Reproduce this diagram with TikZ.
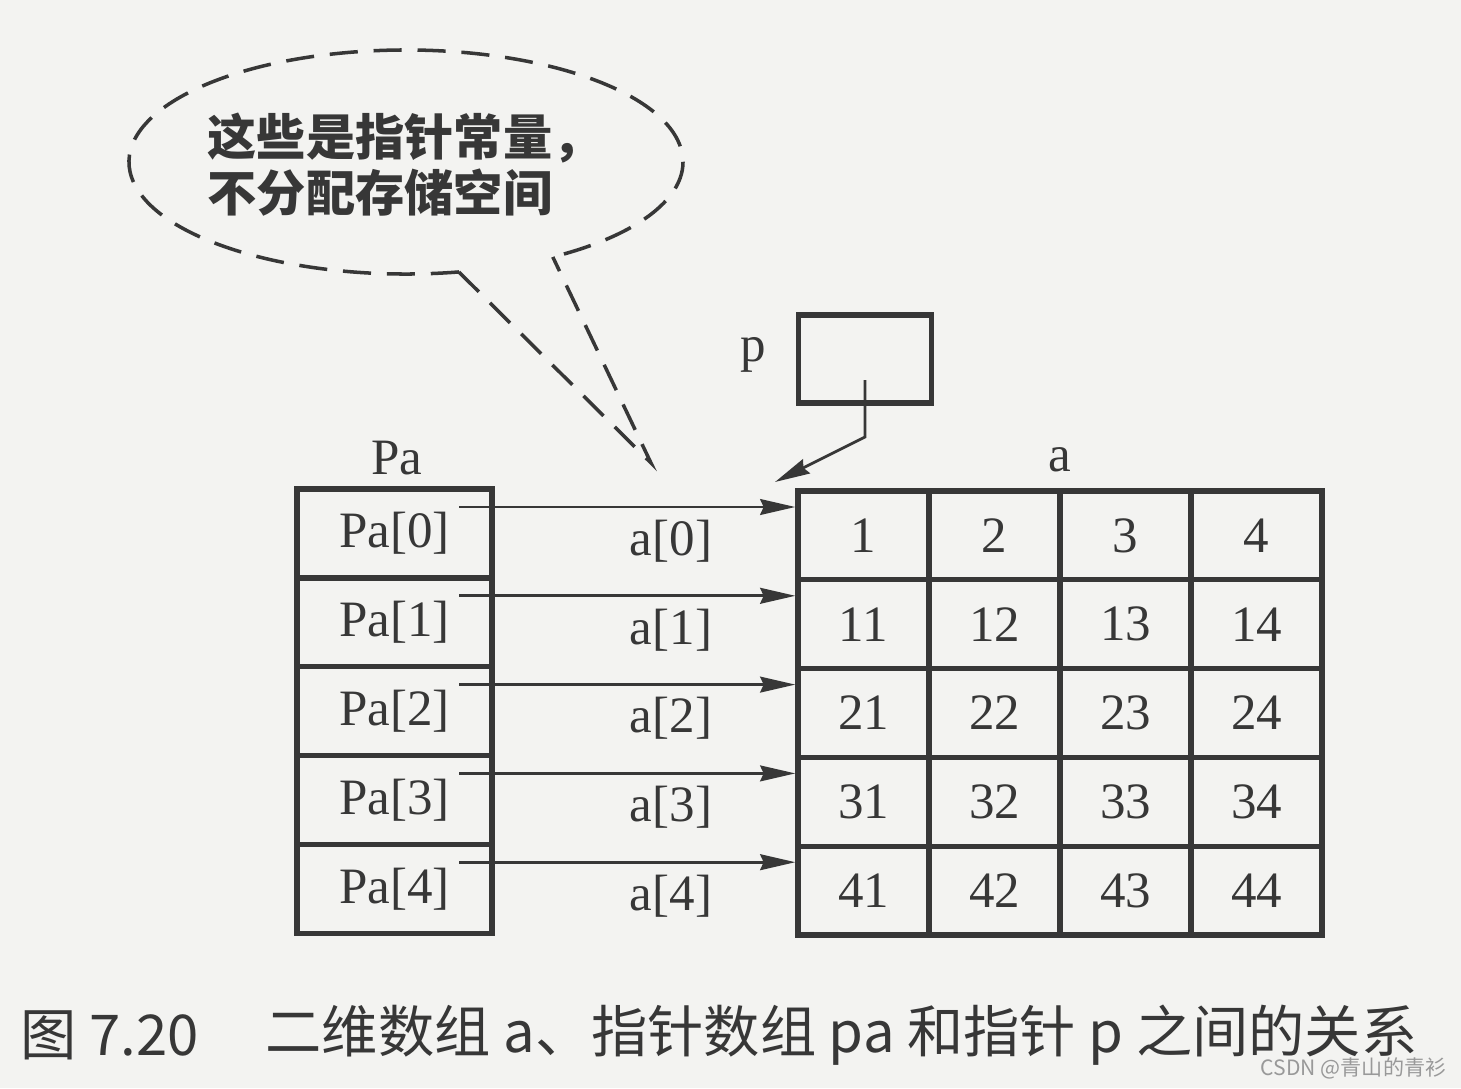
\documentclass[tikz,border=0pt]{standalone}
\usepackage{fontspec}
\setmainfont{Liberation Serif}
\newfontfamily\cjk{Noto Sans CJK SC}
\usetikzlibrary{arrows.meta}
\definecolor{ink}{RGB}{55,55,55}
\definecolor{paper}{RGB}{243,243,241}

\begin{document}
\begin{tikzpicture}[x=0.01cm,y=-0.01cm,
        lbl/.style={font=\fontsize{14.5}{17}\selectfont,text=ink,inner sep=0pt},
        cell/.style={lbl,draw=ink,line width=1.5pt,minimum width=1.31cm,minimum height=0.888cm},
        pacell/.style={cell,minimum width=1.95cm},
        ptr/.style={draw=ink,line width=0.8pt,-{Stealth[length=10pt,width=4.5pt,inset=1pt]}},
        dashline/.style={draw=ink,line width=1pt,dash pattern=on 8pt off 4.5pt}]
    \fill[paper] (0,0) rectangle (1461,1088);
    \useasboundingbox (0,0) rectangle (1461,1088);

    % callout
    \node[font=\cjk\bfseries\fontsize{14}{16}\selectfont,text=ink,align=left,anchor=west,inner sep=0pt] (note) at (207,165) {这些是指针常量，\\不分配存储空间};
    \coordinate (ec) at (406,162);
    \coordinate (tip) at (651,463);
    \draw[dashline] (ec) ++(79:277 and 112) coordinate (tl)
        arc[start angle=79,end angle=418,x radius=277,y radius=112] coordinate (tr);
    \draw[dashline] (tl) -- (tip) -- (tr);

    % pointer p
    \node[lbl] (plbl) at (753,355) {p};
    \node[draw=ink,line width=1.5pt,minimum width=1.33cm,minimum height=0.88cm] (pbox) at (865,359) {};
    \coordinate (pstart) at (865,380);
    \coordinate (pbend) at (865,437);
    \coordinate (pend) at (775,482);
    \draw[ptr] (pstart) -- (pbend) -- (pend);

    % array a
    \node[lbl] (albl) at (1060,460) {a};
    \foreach \r in {0,...,4}{
        \foreach \c in {0,...,3}{
            \pgfmathtruncatemacro\v{10*\r+\c+1}
            \node[cell] (a\r\c) at ({863.5+131*\c},{535.4+88.8*\r}) {\v};
        }
    }

    % pointer array Pa
    \node[lbl] (palbl) at (397,458) {Pa};
    \foreach \r in {0,...,4}{
        \node[pacell] (pa\r) at (394.5,{533.4+88.9*\r}) {Pa[\r]};
        \node[lbl] (al\r) at (671,{541+88.8*\r}) {a[\r]};
        \coordinate (s\r) at (459,{507+88.8*\r});
        \draw[ptr] (s\r) -- (s\r -| a\r0.west);
    }

    % caption
    \node[font=\cjk\fontsize{16}{18}\selectfont,text=ink,anchor=west,inner sep=0pt] (fig) at (20,1035) {图 7.20};
    \node[font=\cjk\fontsize{16}{18}\selectfont,text=ink,anchor=west,inner sep=0pt] (cap) at (265,1035) {二维数组 a、指针数组 pa 和指针 p 之间的关系};
    \node[font=\cjk\fontsize{6}{7}\selectfont,text=gray!80,anchor=east,inner sep=0pt] (wm) at (1447,1068) {CSDN @青山的青衫};
\end{tikzpicture}
\end{document}
